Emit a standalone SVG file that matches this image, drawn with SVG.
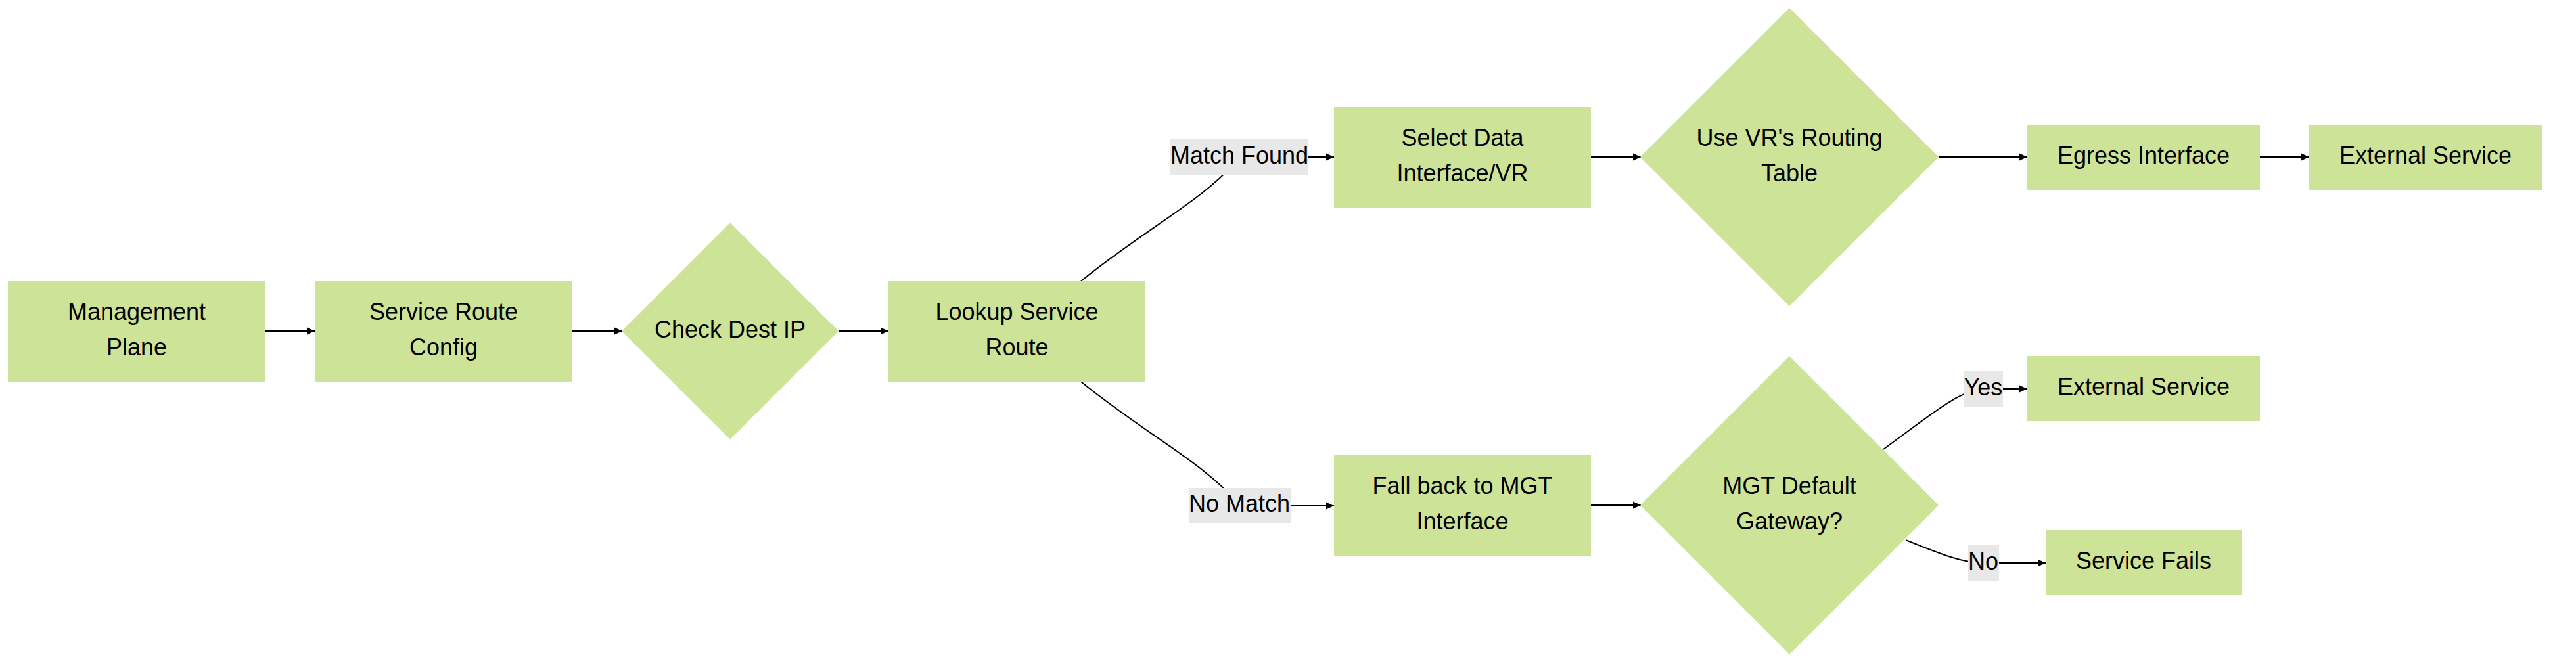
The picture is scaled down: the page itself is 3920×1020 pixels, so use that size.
<svg xmlns="http://www.w3.org/2000/svg" width="3920" height="1020" viewBox="0 0 3920 1020">
<style>
.node{fill:#cde498;}
.t{font-family:"Liberation Sans",Arial,sans-serif;font-size:36px;fill:#000;text-anchor:middle;}
.e{fill:none;stroke:#000;stroke-width:2;}
.lb{fill:#e8e8e8;}
</style>
<defs>
<marker id="arr" markerUnits="userSpaceOnUse" markerWidth="12" markerHeight="12" viewBox="0 0 12 12" refX="12" refY="6" orient="auto">
<path d="M0,0.5 L12,6 L0,11.5 z" fill="#000"/>
</marker>
</defs>
<rect width="3920" height="1020" fill="#fff"/>
<g id="edges">
<path class="e" d="M404,504 L479,504" marker-end="url(#arr)"/>
<path class="e" d="M870,504 L947,504" marker-end="url(#arr)"/>
<path class="e" d="M1276,504 L1352,504" marker-end="url(#arr)"/>
<path class="e" d="M1645,428 C1740,350 1840,300 1886,239 L2030,239" marker-end="url(#arr)"/>
<path class="e" d="M1645,581 C1740,659 1840,709 1886,770 L2030,770" marker-end="url(#arr)"/>
<path class="e" d="M2421,239 L2497,239" marker-end="url(#arr)"/>
<path class="e" d="M2950,239 L3085,239" marker-end="url(#arr)"/>
<path class="e" d="M3439,239 L3514,239" marker-end="url(#arr)"/>
<path class="e" d="M2421,769 L2497,769" marker-end="url(#arr)"/>
<path class="e" d="M2866,684 C2940,630 2980,595 3018,592 L3085,592" marker-end="url(#arr)"/>
<path class="e" d="M2900,822 C2950,842 2985,857 3018,857 L3113,857" marker-end="url(#arr)"/>
</g>
<g id="edge-labels">
<g id="lbl-match"><rect class="lb" x="1781" y="212" width="210" height="54"/><text class="t" x="1886" y="249">Match Found</text></g>
<g id="lbl-nomatch"><rect class="lb" x="1809" y="743" width="155" height="53"/><text class="t" x="1886" y="779">No Match</text></g>
<g id="lbl-yes"><rect class="lb" x="2988" y="565" width="60" height="54"/><text class="t" x="3018" y="602">Yes</text></g>
<g id="lbl-no"><rect class="lb" x="2995" y="830" width="47" height="54"/><text class="t" x="3018" y="867">No</text></g>
</g>
<g id="n-mgmt"><rect class="node" x="12" y="428" width="392" height="153"/><text class="t" x="208" y="487">Management</text><text class="t" x="208" y="541">Plane</text></g>
<g id="n-src"><rect class="node" x="479" y="428" width="391" height="153"/><text class="t" x="675" y="487">Service Route</text><text class="t" x="675" y="541">Config</text></g>
<g id="n-check"><polygon class="node" points="1111,339 1276,504 1111,669 946,504"/><text class="t" x="1111" y="514">Check Dest IP</text></g>
<g id="n-lookup"><rect class="node" x="1352" y="428" width="391" height="153"/><text class="t" x="1547.5" y="487">Lookup Service</text><text class="t" x="1547.5" y="541">Route</text></g>
<g id="n-select"><rect class="node" x="2030" y="163" width="391" height="153"/><text class="t" x="2225.5" y="222">Select Data</text><text class="t" x="2225.5" y="276">Interface/VR</text></g>
<g id="n-usevr"><polygon class="node" points="2723,12 2950,239 2723,466 2496,239"/><text class="t" x="2723" y="222">Use VR's Routing</text><text class="t" x="2723" y="276">Table</text></g>
<g id="n-egress"><rect class="node" x="3085" y="190" width="354" height="99"/><text class="t" x="3262" y="249">Egress Interface</text></g>
<g id="n-ext1"><rect class="node" x="3514" y="190" width="354" height="99"/><text class="t" x="3691" y="249">External Service</text></g>
<g id="n-fallback"><rect class="node" x="2030" y="693" width="391" height="153"/><text class="t" x="2225.5" y="752">Fall back to MGT</text><text class="t" x="2225.5" y="806">Interface</text></g>
<g id="n-mgtgw"><polygon class="node" points="2723,542 2950,769 2723,996 2496,769"/><text class="t" x="2723" y="752">MGT Default</text><text class="t" x="2723" y="806">Gateway?</text></g>
<g id="n-ext2"><rect class="node" x="3085" y="542" width="354" height="99"/><text class="t" x="3262" y="601">External Service</text></g>
<g id="n-fails"><rect class="node" x="3113" y="807" width="298" height="99"/><text class="t" x="3262" y="866">Service Fails</text></g>
</svg>
